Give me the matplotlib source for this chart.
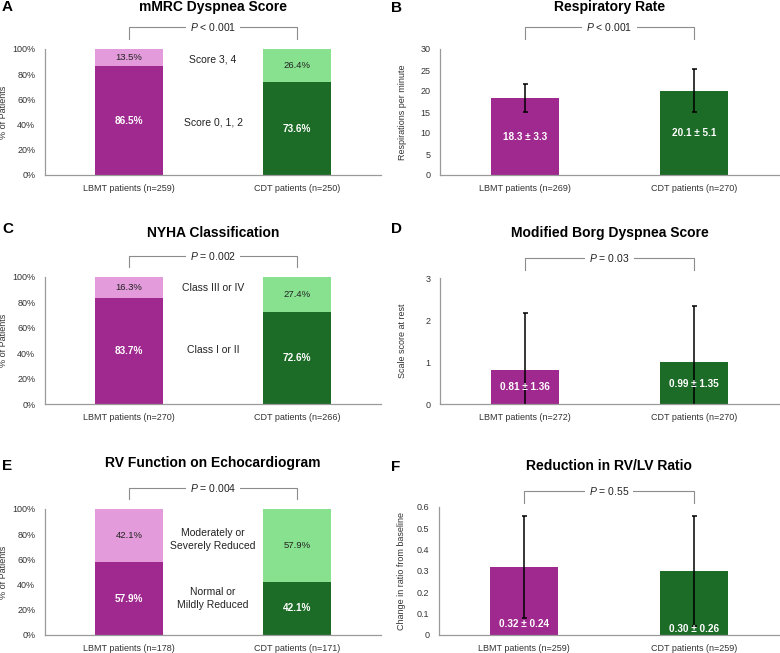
import matplotlib
matplotlib.use("Agg")
import matplotlib.pyplot as plt
import matplotlib.transforms as mtransforms

plt.rcParams['font.family'] = ['Liberation Sans', 'DejaVu Sans']
plt.rcParams['mathtext.fontset'] = 'custom'
plt.rcParams['mathtext.rm'] = 'Liberation Sans'
plt.rcParams['mathtext.it'] = 'Liberation Sans:italic'

# data
groups = ['LBMT patients', 'CDT patients']

mmrc_n = [259, 250]
mmrc_low = [86.5, 73.6]
mmrc_high = [13.5, 26.4]

nyha_n = [270, 266]
nyha_low = [83.7, 72.6]
nyha_high = [16.3, 27.4]

rv_n = [178, 171]
rv_low = [57.9, 42.1]
rv_high = [42.1, 57.9]

rr_n = [269, 270]
rr_mean = [18.3, 20.1]
rr_sd = [3.3, 5.1]

borg_n = [272, 270]
borg_mean = [0.81, 0.99]
borg_sd = [1.36, 1.35]

rvlv_n = [259, 259]
rvlv_mean = [0.32, 0.30]
rvlv_sd = [0.24, 0.26]

dark = ['#A0298F', '#1C6B27']
light = ['#E39BDB', '#87E18F']
tickc = '#333333'
W, H = 780, 653

fig = plt.figure(figsize=(W/100, H/100), dpi=100)


def px_axes(l, t, r, b):
    return fig.add_axes([l/W, 1-b/H, (r-l)/W, (b-t)/H])


def style(ax, ns, ylab, labx):
    for s in ['top', 'right']:
        ax.spines[s].set_visible(False)
    for s in ['left', 'bottom']:
        ax.spines[s].set_color('#9a9a9a')
        ax.spines[s].set_linewidth(0.9)
    ax.tick_params(length=0, labelsize=6.5, colors=tickc)
    ax.tick_params(axis='y', pad=7)
    ax.tick_params(axis='x', pad=6.5)
    ax.set_xlim(-0.5, 1.5)
    ax.set_xticks([0, 1])
    ax.set_xticklabels(['%s (n=%d)' % (g, n) for g, n in zip(groups, ns)])
    ax.set_ylabel(ylab, fontsize=6.5, color=tickc)
    ax.yaxis.set_label_coords(labx, 0.5)


def bracket(ax, text, ytop, ydrop):
    tr = mtransforms.blended_transform_factory(ax.transData, ax.transAxes)
    ax.plot([0, 0, 1, 1], [ydrop, ytop, ytop, ydrop], color='#8c8c8c', lw=0.8,
            transform=tr, clip_on=False)
    ax.text(0.5, ytop, text, transform=tr, ha='center', va='center', fontsize=7.5,
            color='#222222', bbox=dict(facecolor='white', edgecolor='none', pad=3))


def title(ax, text, y):
    ax.text(0.5, y, text, transform=ax.transAxes, ha='center', va='center',
            fontsize=10, fontweight='bold')


def stacked(ax, low, high, lab_high, lab_low, y_high, y_low):
    x = [0, 1]
    ax.bar(x, low, width=0.4, color=dark)
    ax.bar(x, high, width=0.4, bottom=low, color=light)
    for i in x:
        ax.text(i, low[i]/2, '%.1f%%' % low[i], ha='center', va='center',
                color='white', fontsize=7.2, fontweight='bold')
        ax.text(i, low[i] + high[i]/2, '%.1f%%' % high[i], ha='center', va='center',
                color='#222222', fontsize=6.8)
    ax.text(0.5, y_high, lab_high, ha='center', va='center', fontsize=7.5,
            color='#222222', linespacing=1.4)
    ax.text(0.5, y_low, lab_low, ha='center', va='center', fontsize=7.5,
            color='#222222', linespacing=1.4)
    ax.set_ylim(0, 100)
    ax.set_yticks(range(0, 101, 20))
    ax.set_yticklabels(['%d%%' % v for v in range(0, 101, 20)])


def meanbar(ax, mean, sd, fmt, label_y):
    x = [0, 1]
    ax.bar(x, mean, width=0.4, color=dark)
    ax.errorbar(x, mean, yerr=sd, fmt='none', ecolor='black', elinewidth=1.1,
                capsize=1.8, capthick=1.1)
    for i in x:
        ax.text(i, label_y[i], (fmt + ' \u00b1 ' + fmt) % (mean[i], sd[i]),
                ha='center', va='center', color='white', fontsize=7.2,
                fontweight='bold')


def letter(x, y, s):
    fig.text(x/W, 1-y/H, s, ha='left', va='center', fontsize=11, fontweight='bold')


# A
ax = px_axes(45, 49, 381, 175)
stacked(ax, mmrc_low, mmrc_high, 'Score 3, 4', 'Score 0, 1, 2', 92, 42)
style(ax, mmrc_n, '% of Patients', -0.11)
bracket(ax, '$P$ < 0.001', 1.175, 1.08)
title(ax, 'mMRC Dyspnea Score', 1.33)
letter(2, 7, 'A')

# B
ax = px_axes(440, 49, 779, 175)
meanbar(ax, rr_mean, rr_sd, '%.1f', [m/2 for m in rr_mean])
ax.set_ylim(0, 30)
ax.set_yticks(range(0, 31, 5))
style(ax, rr_n, 'Respirations per minute', -0.097)
bracket(ax, '$P$ < 0.001', 1.175, 1.08)
title(ax, 'Respiratory Rate', 1.33)
letter(391, 8, 'B')

# C
ax = px_axes(45, 277, 381, 404)
stacked(ax, nyha_low, nyha_high, 'Class III or IV', 'Class I or II', 91.3, 42.5)
style(ax, nyha_n, '% of Patients', -0.11)
bracket(ax, '$P$ = 0.002', 1.165, 1.08)
title(ax, 'NYHA Classification', 1.35)
letter(2, 229, 'C')

# D
ax = px_axes(440, 278, 779, 404)
meanbar(ax, borg_mean, borg_sd, '%.2f', [0.40, 0.48])
ax.set_ylim(0, 3)
ax.set_yticks(range(0, 4))
style(ax, borg_n, 'Scale score at rest', -0.097)
bracket(ax, '$P$ = 0.03', 1.16, 1.065)
title(ax, 'Modified Borg Dyspnea Score', 1.36)
letter(391, 229, 'D')

# E
ax = px_axes(45, 509, 381, 635)
stacked(ax, rv_low, rv_high, 'Moderately or\nSeverely Reduced', 'Normal or\nMildly Reduced',
        76, 29)
style(ax, rv_n, '% of Patients', -0.11)
bracket(ax, '$P$ = 0.004', 1.167, 1.08)
title(ax, 'RV Function on Echocardiogram', 1.365)
letter(2, 466, 'E')

# F
ax = px_axes(439, 507, 779, 635)
meanbar(ax, rvlv_mean, rvlv_sd, '%.2f', [0.05, 0.028])
ax.set_ylim(0, 0.6)
ticks = [0, 0.1, 0.2, 0.3, 0.4, 0.5, 0.6]
ax.set_yticks(ticks)
ax.set_yticklabels(['0'] + ['%.1f' % t for t in ticks[1:]])
style(ax, rvlv_n, 'Change in ratio from baseline', -0.097)
bracket(ax, '$P$ = 0.55', 1.125, 1.03)
title(ax, 'Reduction in RV/LV Ratio', 1.32)
letter(391, 467, 'F')

fig.savefig('out.png', dpi=100)
